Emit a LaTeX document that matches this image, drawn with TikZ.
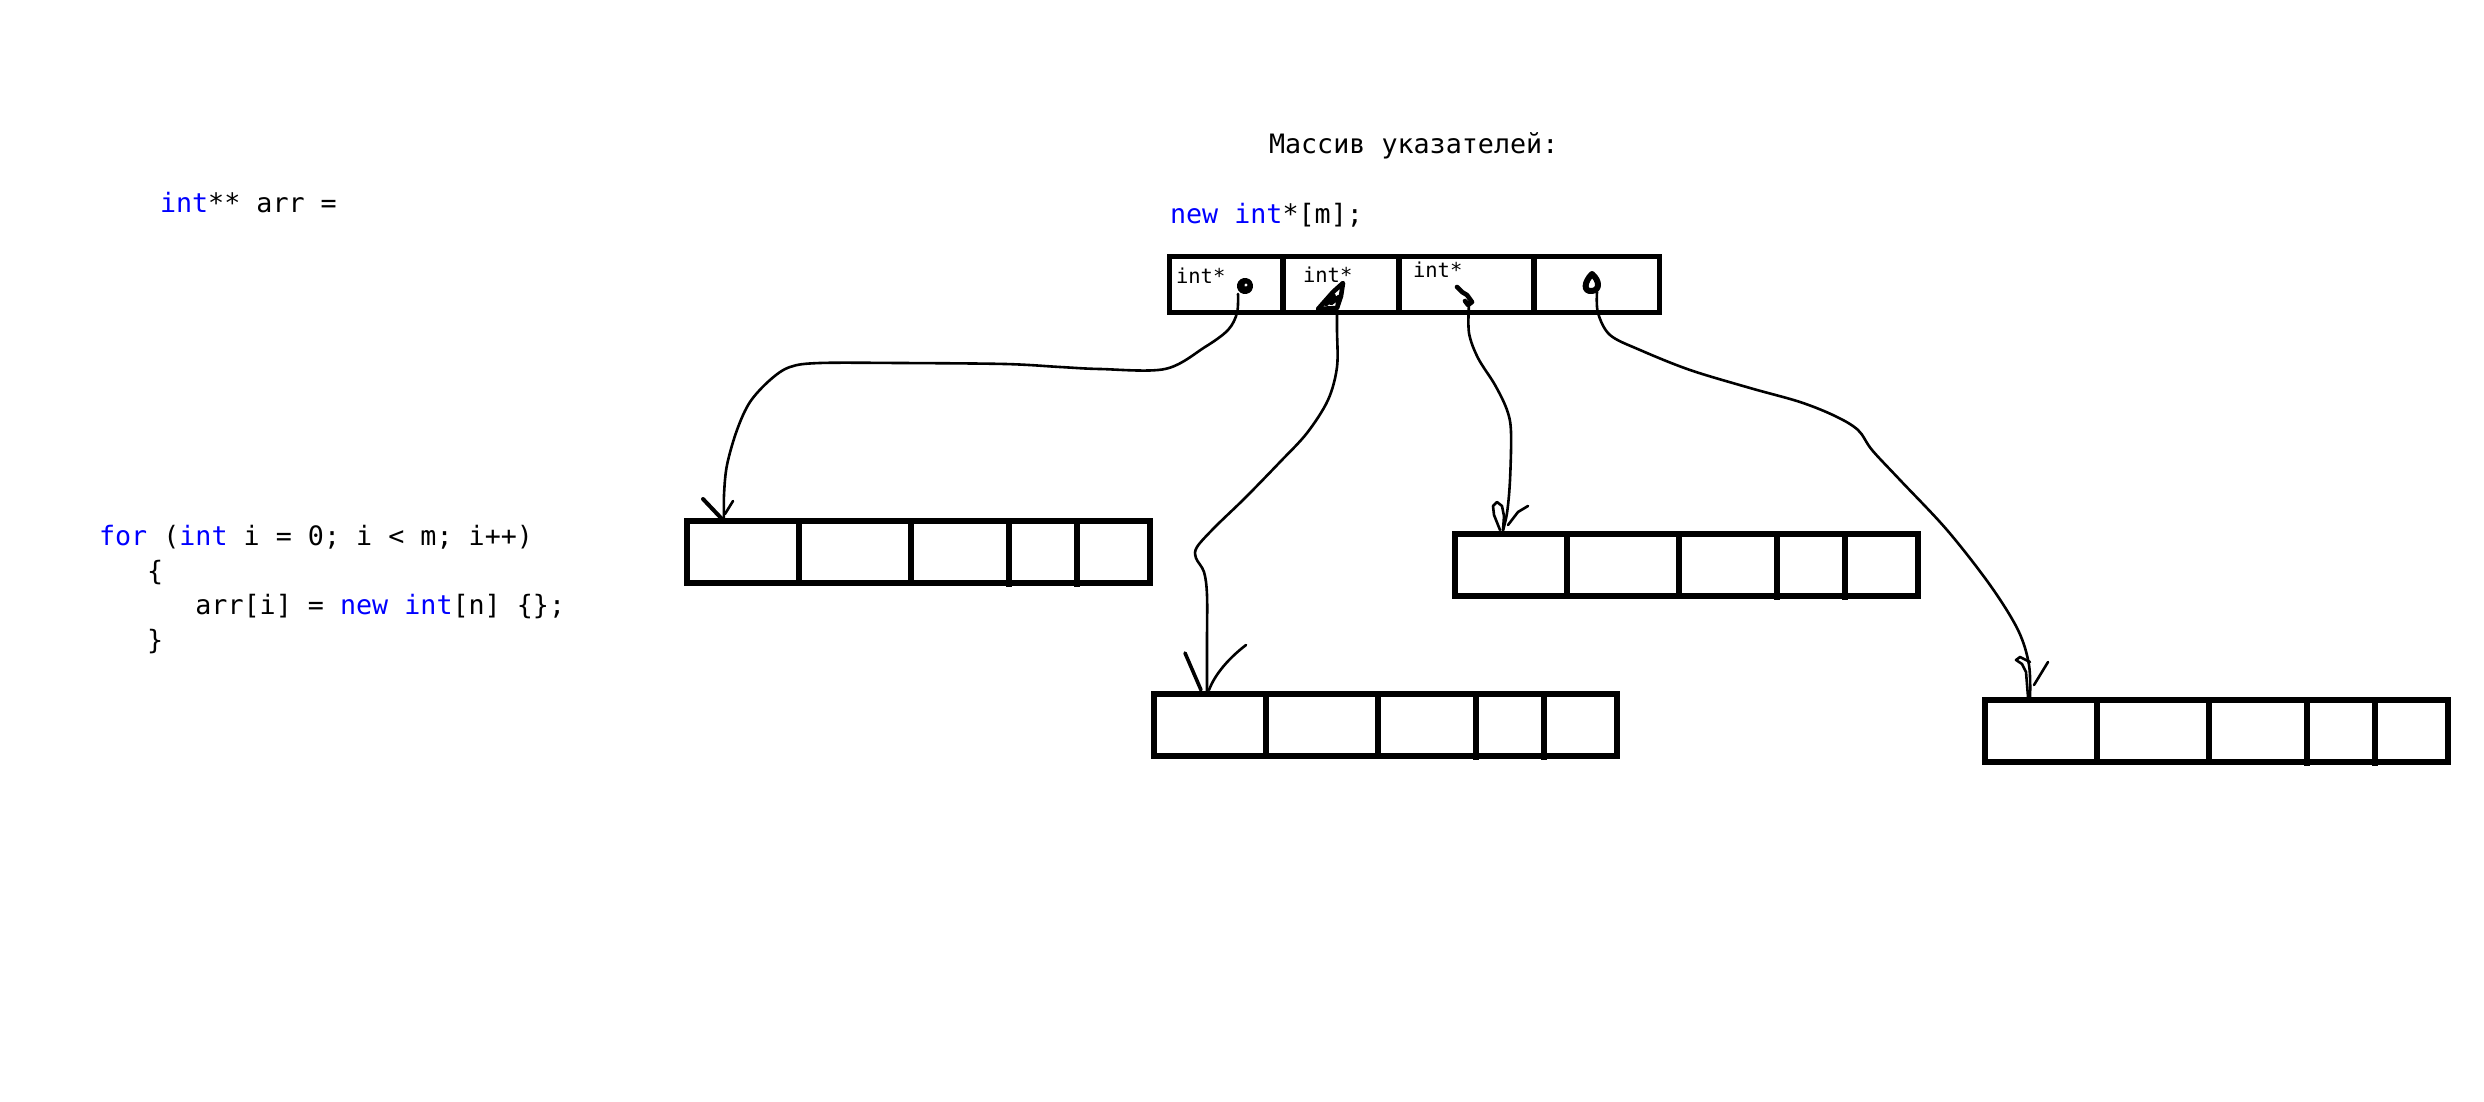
\documentclass[tikz,border=0pt]{standalone}
\usepackage{fontspec}
\newfontfamily\codefont{DejaVu Sans Mono}
\definecolor{kwblue}{RGB}{0,0,255}
\newcommand\kw[1]{\textcolor{kwblue}{#1}}

\begin{document}
\begin{tikzpicture}[x=1pt,y=-1pt,
  code/.style={font=\codefont\fontsize{26.7pt}{32pt}\selectfont, anchor=base west, inner sep=0pt, outer sep=0pt},
  tag/.style={font=\codefont\fontsize{20.5pt}{24pt}\selectfont, anchor=base west, inner sep=0pt, outer sep=0pt},
  ptrrow/.style={draw, line width=5pt, minimum width=490pt, minimum height=56pt, inner sep=0pt, outer sep=0pt, anchor=north west},
  cellrow/.style={draw, line width=5.2pt, minimum width=463pt, minimum height=62pt, inner sep=0pt, outer sep=0pt, anchor=north west},
  rowline/.style={line width=5.2pt},
  wire/.style={line width=2.6pt, line cap=round, line join=round},
  blob/.style={line width=4.6pt, line cap=round, line join=round},
]
\fill[white] (0,0) rectangle (2484,1102);
\useasboundingbox (0,0) rectangle (2484,1102);

% ---- code fragments ----
\node[code] (decl) at (160,212) {\kw{int}** arr =};
\node[code] (title) at (1269,154) {Массив указателей:};
\node[code] (alloc) at (1170,223) {\kw{new} \kw{int}*[m];};
\node[code] (loop1) at (99,545) {\kw{for} (\kw{int} i = 0; i < m; i++)};
\node[code] (loop2) at (147.2,580) {\{};
\node[code] (loop3) at (195.4,614.5) {arr[i] = \kw{new} \kw{int}[n] \{\};};
\node[code] (loop4) at (147.2,649) {\}};

% ---- array of pointers ----
\node[ptrrow] (ptr) at (1169,256) {};
\foreach \d in {114,230}
  \draw[rowline] ([xshift=\d pt]ptr.north west) -- ([xshift=\d pt]ptr.south west);
\draw[rowline] ([xshift=365pt]ptr.north west) -- ([xshift=365pt,yshift=-2pt]ptr.south west);
\node[tag] (tag1) at (1176,283) {int*};
\node[tag] (tag2) at (1303,282) {int*};
\node[tag] (tag3) at (1413,277) {int*};

% ---- rows of ints ----
\foreach \n/\x/\y in {a1/687/521, a2/1154/694, a3/1455/534, a4/1985/700} {
  \node[cellrow] (\n) at (\x,\y) {};
  \foreach \d in {112,224}
    \draw[rowline] ([xshift=\d pt]\n.north west) -- ([xshift=\d pt]\n.south west);
  \foreach \d in {322,390}
    \draw[rowline] ([xshift=\d pt]\n.north west) -- ([xshift=\d pt,yshift=-4pt]\n.south west);
}

% ---- pointer marks inside the cells ----
\draw[blob, line width=7.5pt] (1245,286) circle[radius=4.5];
\fill[white] (1246,285) circle[radius=1.6];
\draw[blob] (1318,309) -- (1333,292) -- (1343,283) -- (1341,296) -- (1337,308) -- cycle;
\draw[blob] (1326,304) -- (1334,296) -- (1331,303) -- (1339,297);
\draw[blob] (1457,287) -- (1462,292) -- (1467,295) -- (1472,302) -- (1468,305) -- (1465,301);
\draw[blob, line width=6pt] (1592,274) .. controls (1584,282) and (1583,292) .. (1592,291)
            .. controls (1600,290) and (1600,281) .. (1592,274);

\coordinate (p1) at (1238,294);
\coordinate (p2) at (1337,300);
\coordinate (p3) at (1469,304);
\coordinate (p4) at (1597,292);
\coordinate (t1) at ([xshift=37pt]a1.north west);
\coordinate (t2) at ([xshift=53pt]a2.north west);
\coordinate (t3) at ([xshift=47pt]a3.north west);
\coordinate (t4) at ([xshift=45pt]a4.north west);

% ---- connectors ----
\draw[wire] plot[smooth, tension=0.55] coordinates {
  (p1) (1237,313) (1228,330) (1205,347) (1165,369) (1100,369) (1060,367)
  (1005,364) (900,363) (820,363) (790,367) (770,380) (750,402) (737,430)
  (727,465) (724,495) (t1)};
\draw[wire] plot[smooth, tension=0.55] coordinates {
  (p2) (1337,330) (1337,367) (1328,400) (1307,433) (1280,462) (1245,498)
  (1215,527) (1197,547) (1196,558) (1204,572) (1207,595) (1207,640) (t2)};
\draw[wire] plot[smooth, tension=0.55] coordinates {
  (p3) (1469,333) (1478,358) (1495,385) (1507,410) (1511,432) (1510,480)
  (1507,513) (t3)};
\draw[wire] plot[smooth, tension=0.55] coordinates {
  (p4) (1598,313) (1610,335) (1640,350) (1690,370) (1750,388) (1800,402)
  (1835,416) (1858,430) (1872,450) (1900,480) (1947,530) (1990,585)
  (2018,630) (2029,665) (t4)};

% ---- hand-drawn arrowheads ----
\draw[wire, line width=4pt] ([shift={(-21,-22)}]t1) -- ([shift={(-2,-2)}]t1);
\draw[wire] ([shift={(9,-20)}]t1) -- ([shift={(1,-7)}]t1);

\draw[wire, line width=3.6pt] ([shift={(-22,-41)}]t2) -- ([shift={(-6,-4)}]t2);
\draw[wire] ([shift={(39,-49)}]t2) .. controls ([shift={(22,-36)}]t2) and ([shift={(8,-20)}]t2) .. ([shift={(2,-4)}]t2);

\draw[wire] ([shift={(-2,-4)}]t3) -- ([shift={(-8,-19)}]t3) -- ([shift={(-9,-28)}]t3)
  -- ([shift={(-5,-32)}]t3) -- ([shift={(0,-28)}]t3) -- ([shift={(2,-18)}]t3) -- ([shift={(1,-4)}]t3);
\draw[wire] ([shift={(26,-28)}]t3) -- ([shift={(16,-22)}]t3) -- ([shift={(6,-9)}]t3);

\draw[wire] ([shift={(-2,-3)}]t4) -- ([shift={(-4,-28)}]t4) -- ([shift={(-8,-36)}]t4)
  -- ([shift={(-14,-40)}]t4) -- ([shift={(-10,-43)}]t4) -- ([shift={(0,-38)}]t4);
\draw[wire] ([shift={(18,-38)}]t4) -- ([shift={(4,-15)}]t4);
\end{tikzpicture}
\end{document}
